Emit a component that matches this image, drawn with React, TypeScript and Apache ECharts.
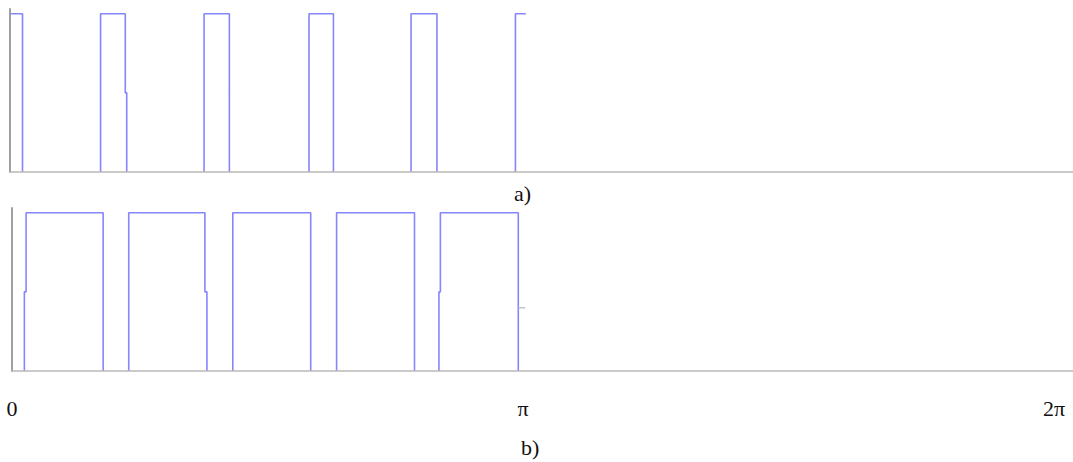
import React, { useEffect, useRef } from "react";
import * as echarts from "echarts";

// Angles in degrees (180 = π, 360 = 2π), levels: 0 = off, 0.5 = half step, 1 = on.
// null breaks the trace so the "off" stretches are left to the axis line.
type Pt = [number, number] | null;

const topWave: Pt[] = [
  [0, 0], [0, 1], [4.35, 1], [4.35, 0], null,
  [31.5, 0], [31.5, 1], [40.1, 1], [40.1, 0.5], [40.6, 0.5], [40.6, 0], null,
  [67.5, 0], [67.5, 1], [76.3, 1], [76.3, 0], null,
  [104.0, 0], [104.0, 1], [112.5, 1], [112.5, 0], null,
  [139.5, 0], [139.5, 1], [148.5, 1], [148.5, 0], null,
  [175.8, 0], [175.8, 1], [179.4, 1],
];

const bottomWave: Pt[] = [
  [4.3, 0], [4.3, 0.5], [4.9, 0.5], [4.9, 1], [31.7, 1], [31.7, 0], null,
  [40.6, 0], [40.6, 1], [67.1, 1], [67.1, 0.5], [67.8, 0.5], [67.8, 0], null,
  [76.8, 0], [76.8, 1], [103.9, 1], [103.9, 0], null,
  [112.9, 0], [112.9, 1], [140.0, 1], [140.0, 0], null,
  [148.5, 0], [148.5, 0.5], [149.0, 0.5], [149.0, 1], [176.1, 1], [176.1, 0],
];

const bottomMark: Pt[] = [[176.2, 0.4], [178.5, 0.4]];

const tickValues = [0, 180, 360];
const tickLabels = ["0", "π", "2π"];
const panelLabels = ["a)", "b)"];

const WAVE_COLOR = "#8585ff";
const AXIS_GRAY = "#b9b9b9";
const TEXT_COLOR = "#111111";
const FONT = "'Liberation Serif', 'DejaVu Serif', serif";
const FONT_SIZE = 22;

const toData = (pts: Pt[]) => pts.map((p) => (p === null ? "-" : p));

export default function App() {
  const ref = useRef<HTMLDivElement>(null);

  useEffect(() => {
    if (!ref.current) return;
    const chart = echarts.init(ref.current, null, { renderer: "svg" });

    const xAxisBase = {
      type: "value" as const,
      min: 0,
      interval: 180,
      z: 10,
      axisLine: { show: true, lineStyle: { color: AXIS_GRAY, width: 1.5 } },
      axisTick: { show: false },
      splitLine: { show: false },
    };
    const yAxisBase = {
      type: "value" as const,
      min: 0,
      max: 1.03,
      z: 10,
      axisLine: { show: true, lineStyle: { color: "#a0a0a0", width: 2 } },
      axisTick: { show: false },
      axisLabel: { show: false },
      splitLine: { show: false },
    };
    const labelStyle = { fontFamily: FONT, fontSize: FONT_SIZE, fontWeight: "normal", color: TEXT_COLOR };
    const waveSeries = (idx: number, data: Pt[], color: string, width: number) => ({
      type: "line",
      xAxisIndex: idx,
      yAxisIndex: idx,
      data: toData(data),
      connectNulls: false,
      showSymbol: false,
      z: 1,
      lineStyle: { color, width },
    });

    chart.setOption({
      animation: false,
      backgroundColor: "#ffffff",
      title: [
        { text: panelLabels[0], left: 509, top: 177, textStyle: labelStyle },
        { text: panelLabels[1], left: 516, top: 431, textStyle: labelStyle },
      ],
      grid: [
        { left: 10, top: 9, width: 1063, height: 163 },
        { left: 12, top: 208, width: 1061, height: 163 },
      ],
      xAxis: [
        { ...xAxisBase, gridIndex: 0, max: 1063 / 2.875, axisLabel: { show: false } },
        {
          ...xAxisBase,
          gridIndex: 1,
          max: 1061 / 2.875,
          axisLabel: {
            show: true,
            margin: 26,
            showMaxLabel: false,
            ...labelStyle,
            formatter: (v: number) => {
              const i = tickValues.indexOf(Math.round(v));
              if (i < 0) return "";
              return `{l${i}|${tickLabels[i]}}`;
            },
            rich: {
              l0: { ...labelStyle, padding: [0, 0, 0, 0] },
              l1: { ...labelStyle, padding: [0, 13, 0, 0] },
              l2: { ...labelStyle, padding: [0, 0, 0, 14] },
            },
          },
        },
      ],
      yAxis: [
        { ...yAxisBase, gridIndex: 0 },
        { ...yAxisBase, gridIndex: 1 },
      ],
      series: [
        waveSeries(0, topWave, WAVE_COLOR, 1.6),
        waveSeries(1, bottomWave, WAVE_COLOR, 1.6),
        waveSeries(1, bottomMark, "#c4c4c4", 1.5),
      ],
    });

    return () => chart.dispose();
  }, []);

  return (
    <div
      ref={ref}
      style={{ position: "fixed", left: 0, top: 0, width: 1073, height: 462 }}
    />
  );
}
